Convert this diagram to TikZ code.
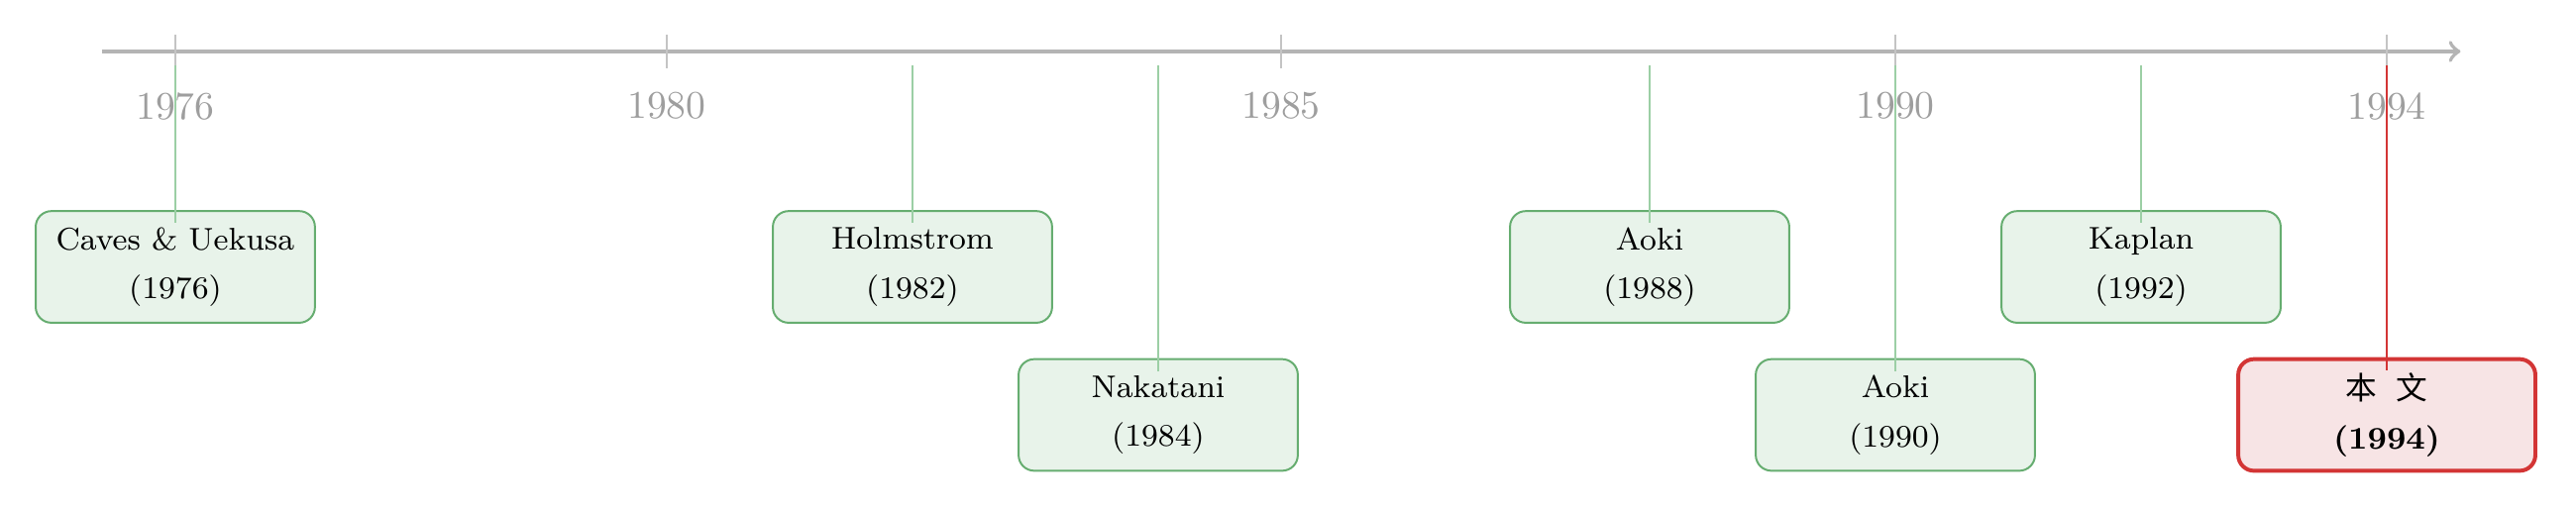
\documentclass[tikz,border=0pt]{standalone}
\usepackage{fontspec}
\usepackage{xcolor}
\newfontfamily\cjkfont{Noto Sans CJK SC}
\usetikzlibrary{positioning}

\definecolor{axisgray}{HTML}{B4B4B4}
\definecolor{tickgray}{HTML}{C4C4C4}
\definecolor{labelgray}{HTML}{9E9E9E}
\definecolor{evgreen}{HTML}{66AD70}
\definecolor{evfill}{HTML}{E8F3EA}
\definecolor{evline}{HTML}{9CCFA5}
\definecolor{herered}{HTML}{D33535}
\definecolor{herefill}{HTML}{F7E4E5}

\tikzset{
  event/.style={rectangle, rounded corners, draw=evgreen, fill=evfill, line width=0.5pt,
    minimum width=2.5cm, minimum height=1cm, align=center, font=\footnotesize},
  hereevent/.style={event, draw=herered, fill=herefill, line width=1pt, minimum width=2.66cm},
  yearlabel/.style={text=labelgray, font=\normalsize}
}

\begin{document}
\begin{tikzpicture}[x=1.1cm, y=1cm]
\useasboundingbox (-1.427,0.461) rectangle (19.54,-4.099);

\draw[axisgray, line width=1pt, ->] (-0.6,0) -- (18.6,0);
\foreach \yr in {1976,1980,1985,1990,1994} {
  \draw[tickgray, line width=0.5pt] ({\yr-1976},0.15) -- ({\yr-1976},-0.15);
  \node[yearlabel] at ({\yr-1976},-0.49) {\yr};
}

\foreach \yr in {1976,1982,1984,1988,1990,1992,1994}
  \coordinate (t\yr) at ({\yr-1976},-0.124);

\node[event] (caves) at (0,-1.93) {Caves \& Uekusa\\[3pt](1976)};
\node[event] (holm) at (6,-1.93) {Holmstrom\\[3pt](1982)};
\node[event] (naka) at (8,-3.256) {Nakatani\\[3pt](1984)};
\node[event] (aokiA) at (12,-1.93) {Aoki\\[3pt](1988)};
\node[event] (aokiB) at (14,-3.256) {Aoki\\[3pt](1990)};
\node[event] (kaplan) at (16,-1.93) {Kaplan\\[3pt](1992)};
\node[hereevent] (here) at (18,-3.256) {{\cjkfont 本\hspace{0.6em}文}\\[3pt]\textbf{(1994)}};

\draw[evline, line width=0.5pt] (t1976) -- ([yshift=-0.115cm]caves.north);
\draw[evline, line width=0.5pt] (t1982) -- ([yshift=-0.115cm]holm.north);
\draw[evline, line width=0.5pt] (t1984) -- ([yshift=-0.115cm]naka.north);
\draw[evline, line width=0.5pt] (t1988) -- ([yshift=-0.115cm]aokiA.north);
\draw[evline, line width=0.5pt] (t1990) -- ([yshift=-0.115cm]aokiB.north);
\draw[evline, line width=0.5pt] (t1992) -- ([yshift=-0.115cm]kaplan.north);
\draw[herered, line width=0.6pt] (t1994) -- ([yshift=-0.115cm]here.north);
\end{tikzpicture}
\end{document}
